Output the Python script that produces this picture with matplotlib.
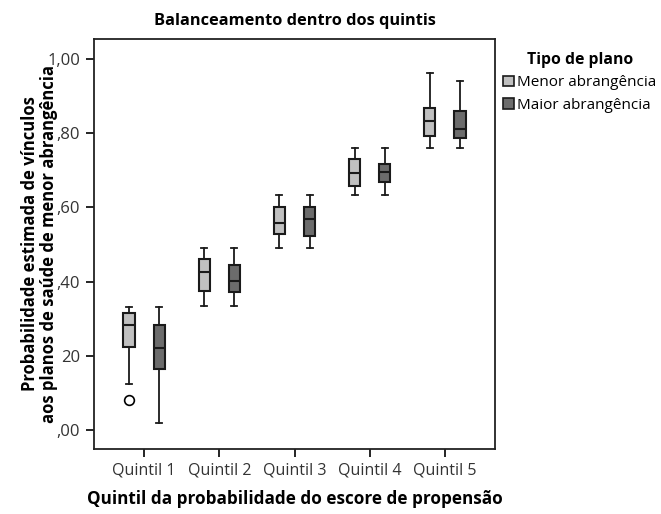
#!/usr/bin/env python3

import matplotlib.pyplot as plt
from matplotlib.patches import Patch
import numpy as np

plt.rcParams['font.family'] = ['Open Sans', 'DejaVu Sans']

quintis = ['Quintil 1', 'Quintil 2', 'Quintil 3', 'Quintil 4', 'Quintil 5']
grupos = ['Menor abrangência', 'Maior abrangência']
cores = ['#c0c0c0', '#6c6c6c']

# valores: whisker baixo, Q1, mediana, Q3, whisker alto
menor_wlo = [0.124, 0.334, 0.491, 0.634, 0.761]
menor_q1 = [0.224, 0.374, 0.528, 0.659, 0.792]
menor_med = [0.283, 0.426, 0.557, 0.692, 0.832]
menor_q3 = [0.315, 0.460, 0.600, 0.730, 0.868]
menor_whi = [0.332, 0.491, 0.634, 0.761, 0.963]
menor_out = [[0.080], [], [], [], []]

maior_wlo = [0.018, 0.334, 0.491, 0.634, 0.761]
maior_q1 = [0.165, 0.371, 0.523, 0.668, 0.786]
maior_med = [0.220, 0.402, 0.568, 0.695, 0.812]
maior_q3 = [0.282, 0.446, 0.600, 0.718, 0.859]
maior_whi = [0.332, 0.491, 0.634, 0.761, 0.942]
maior_out = [[], [], [], [], []]

series = [
    (menor_wlo, menor_q1, menor_med, menor_q3, menor_whi, menor_out),
    (maior_wlo, maior_q1, maior_med, maior_q3, maior_whi, maior_out),
]

fig = plt.figure(figsize=(6.61, 5.14), dpi=100)
ax = fig.add_axes([0.1422, 0.1265, 0.6067, 0.7977])

x = np.arange(1, len(quintis) + 1)
offsets = [-0.2, 0.2]

for k, (wlo, q1, med, q3, whi, out) in enumerate(series):
    stats = []
    for i in range(len(quintis)):
        stats.append({'whislo': wlo[i], 'q1': q1[i], 'med': med[i],
                      'q3': q3[i], 'whishi': whi[i], 'fliers': out[i]})
    ax.bxp(stats, positions=x + offsets[k], widths=0.15, patch_artist=True,
           manage_ticks=False, capwidths=0.08,
           boxprops=dict(facecolor=cores[k], edgecolor='#1a1a1a', linewidth=1.5),
           medianprops=dict(color='#1a1a1a', linewidth=1.5),
           whiskerprops=dict(color='#1a1a1a', linewidth=1.3),
           capprops=dict(color='#1a1a1a', linewidth=1.3),
           flierprops=dict(marker='o', markerfacecolor='white',
                           markeredgecolor='black', markersize=7,
                           markeredgewidth=1.2))

ax.set_xlim(1 - 0.667, 5 + 0.667)
ax.set_ylim(-0.051, 1.054)
ax.set_xticks(x)
ax.set_xticklabels(quintis, fontsize=11.5, color='#333333')
yt = [0.0, 0.2, 0.4, 0.6, 0.8, 1.0]
ax.set_yticks(yt)
ax.set_yticklabels([',00', '20', ',40', ',60', ',80', '1,00'], fontsize=12,
                   color='#333333')
ax.tick_params(axis='both', direction='out', length=6, width=1.2, pad=4)
for s in ax.spines.values():
    s.set_linewidth(1.3)
    s.set_color('#222222')

ax.set_title('Balanceamento dentro dos quintis', fontsize=11.8,
             fontweight='bold', pad=10)
ax.set_xlabel('Quintil da probabilidade do escore de propensão', fontsize=12.3,
              fontweight='bold', labelpad=8)
ax.set_ylabel('Probabilidade estimada de vínculos\naos planos de saúde de menor abrangência',
              fontsize=12, fontweight='bold', linespacing=1.05)
ax.yaxis.set_label_coords(-0.09, 0.5)

handles = [Patch(facecolor=cores[k], edgecolor='#1a1a1a', linewidth=1.2)
           for k in range(2)]
leg = fig.legend(handles, grupos, title='Tipo de plano', loc='upper left',
                 bbox_to_anchor=(0.745, 0.92), frameon=False, fontsize=11,
                 handlelength=0.7, handleheight=0.7, handletextpad=0.2,
                 labelspacing=0.5, borderpad=0.2)
leg.get_title().set_fontweight('bold')
leg.get_title().set_fontsize(11.3)

plt.savefig('out.png', dpi=100)
